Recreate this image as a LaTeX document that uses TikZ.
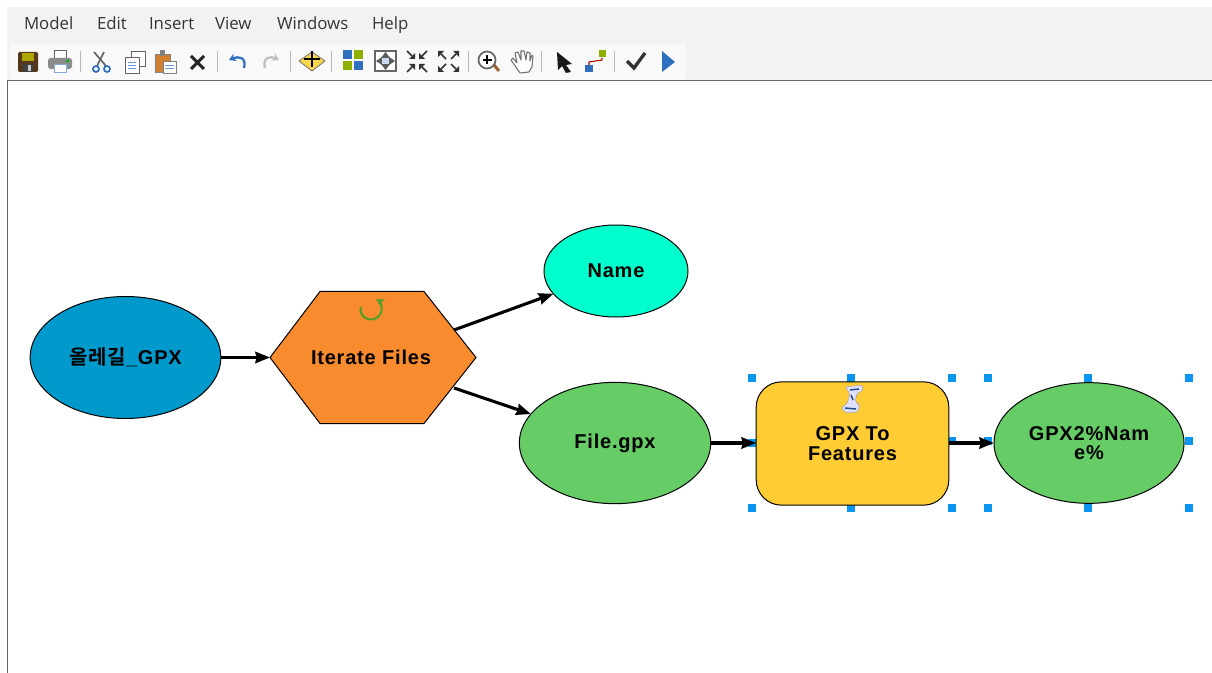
\documentclass[tikz,border=0pt]{standalone}
\usepackage{fontspec}
\setmainfont{Liberation Sans}
\newfontfamily\menufont{Open Sans}
\newfontfamily\diagfont{Liberation Sans Bold}[LetterSpace=4]
\newfontfamily\cjkfont{Noto Sans CJK KR Bold}[LetterSpace=4]
\usetikzlibrary{arrows.meta,shapes.geometric,calc}
\definecolor{ovalblue}{HTML}{0099CC}
\definecolor{ovalcyan}{HTML}{00FFCC}
\definecolor{ovalgreen}{HTML}{66CC66}
\definecolor{hexorange}{HTML}{F78B2D}
\definecolor{boxyellow}{HTML}{FFCC33}
\definecolor{handleblue}{HTML}{0A96F0}
\definecolor{barbg}{HTML}{F2F2F2}
\definecolor{stripbg}{HTML}{F9F9F9}
\definecolor{sepgray}{HTML}{B8B8B8}
\definecolor{iconblue}{HTML}{2F6FC0}
\definecolor{icongreen}{HTML}{8DB000}
\definecolor{loopgreen}{HTML}{4E9F2A}
\tikzset{
  every node/.style={inner sep=0pt,outer sep=0pt},
  diagramtext/.style={font=\diagfont\fontsize{15}{14.6}\selectfont,align=center,text=black},
  ovalnode/.style={ellipse,draw=black,line width=0.75pt,diagramtext},
  flowarrow/.style={line width=2.3pt,black,-{Stealth[length=11pt,width=8.5pt,inset=1pt]}},
  handlesq/.style={fill=handleblue,draw=none,minimum size=5.5pt,rectangle},
  menuitem/.style={font=\menufont\fontsize{12.6}{12.6}\selectfont,text=black!80,anchor=base west},
  sepline/.style={draw=sepgray,line width=0.7pt},
}
\begin{document}
\begin{tikzpicture}[x=0.75pt,y=-0.75pt]
\useasboundingbox (0,0) rectangle (1212,673);
\fill[white] (0,0) rectangle (1212,673);
% window chrome
\fill[barbg] (7,7) rectangle (1212,81);
\fill[stripbg,rounded corners=2pt] (10,44) rectangle (686,80);
\draw[draw=black!60,line width=0.75pt] (7,673) -- (7,81) -- (1212,81);
% menu
\node[menuitem] (mModel) at (24,30) {Model};
\node[menuitem] (mEdit) at (97,30) {Edit};
\node[menuitem] (mInsert) at (149,30) {Insert};
\node[menuitem] (mView) at (215,30) {View};
\node[menuitem] (mWindows) at (277,30) {Windows};
\node[menuitem] (mHelp) at (372,30) {Help};
% separators
\foreach \sx in {80,217,290,331,468,541,614}{\draw[sepline] (\sx,51) -- (\sx,72);}
% save
\fill[black!55!brown,rounded corners=1pt] (18,52) rectangle (38,72);
\fill[olive!70!yellow] (22,53) rectangle (34,61);
\fill[black!75] (23,64) rectangle (33,72);
\fill[white!80!black] (28,65) rectangle (31,71);
% print
\fill[white,draw=black!60,line width=0.6pt] (54,50) rectangle (66,60);
\fill[black!45,rounded corners=2pt] (48,58) rectangle (72,69);
\fill[white,draw=iconblue!60,line width=0.5pt] (54,64) rectangle (66,72);
\fill[green!70!black] (66,60) rectangle (69,62);
% scissors
\draw[black!60,line width=1.3pt] (94,52) -- (106,66);
\draw[black!60,line width=1.3pt] (104,52) -- (97,66);
\draw[iconblue,line width=1.3pt] (96,69) circle[radius=3];
\draw[iconblue,line width=1.3pt] (107,69) circle[radius=3];
% copy
\fill[white,draw=black!60,line width=0.7pt] (131,51) rectangle (145,66);
\fill[white,draw=black!60,line width=0.7pt] (125,57) rectangle (139,73);
\foreach \ly in {62,65,68}{\draw[iconblue!70,line width=0.7pt] (128,\ly) -- (136,\ly);}
% paste
\fill[brown!70!orange,draw=black!50,line width=0.6pt] (155,54) rectangle (170,72);
\fill[black!50] (160,50) rectangle (165,56);
\fill[white,draw=black!50,line width=0.6pt] (163,61) rectangle (176,73);
\foreach \ly in {65,68}{\draw[iconblue!70,line width=0.7pt] (165,\ly) -- (174,\ly);}
% delete
\draw[black!85,line width=2.2pt] (191,56) -- (204,69) (204,56) -- (191,69);
% undo / redo
\draw[iconblue,line width=1.7pt,-{Stealth[length=5pt,width=6pt]}] (244,68) .. controls (247,57) and (238,56) .. (229,60);
\draw[black!25,line width=1.7pt,-{Stealth[length=5pt,width=6pt]}] (265,68) .. controls (262,57) and (271,56) .. (279,60);
% add data
\fill[yellow!60!orange!70,draw=black!55,line width=0.6pt] (299,61) -- (312,52) -- (325,61) -- (312,71) -- cycle;
\draw[black,line width=2.2pt] (312,51) -- (312,67) (304,59) -- (320,59);
% auto layout
\fill[iconblue] (343,50) rectangle (352,59);
\fill[icongreen] (354,50) rectangle (363,59);
\fill[icongreen] (343,61) rectangle (352,70);
\fill[iconblue] (354,61) rectangle (363,70);
% full extent
\draw[black!60,fill=white,line width=0.8pt] (375,51) rectangle (396,71);
\fill[black!65] (381,58) -- (385.5,52) -- (390,58) -- cycle;
\fill[black!65] (381,64) -- (385.5,70) -- (390,64) -- cycle;
\fill[black!65] (382,57) -- (376,61) -- (382,65) -- cycle;
\fill[black!65] (389,57) -- (395,61) -- (389,65) -- cycle;
\fill[iconblue!25] (382,58) rectangle (389,64);
% fixed zoom in: arrows pointing inwards
\foreach \ax/\ay/\dx/\dy in {407/51/1/1,427/51/-1/1,407/72/1/-1,427/72/-1/-1}{
  \draw[black!80,line width=1.1pt] (\ax,\ay) -- (\ax+5*\dx,\ay+5*\dy);
  \fill[black!80] (\ax+8*\dx,\ay+8*\dy) -- (\ax+2*\dx,\ay+8*\dy) -- (\ax+8*\dx,\ay+2*\dy) -- cycle;
}
% fixed zoom out: arrows pointing outwards
\foreach \ax/\ay/\dx/\dy in {438/51/1/1,459/51/-1/1,438/72/1/-1,459/72/-1/-1}{
  \draw[black!80,line width=1.1pt] (\ax+3*\dx,\ay+3*\dy) -- (\ax+8*\dx,\ay+8*\dy);
  \fill[black!80] (\ax,\ay) -- (\ax+6*\dx,\ay) -- (\ax,\ay+6*\dy) -- cycle;
}
% magnifier
\draw[brown!80!black,line width=2.2pt] (494,65) -- (499,71);
\draw[black!60,fill=white,line width=1.3pt] (487,60) circle[radius=8.5];
\draw[black,line width=1.5pt] (487,55.5) -- (487,64.5) (482.5,60) -- (491.5,60);
% hand
\fill[white,draw=black!55,line width=0.8pt,line join=round] (511,60) -- (513,58) -- (517,63) -- (515,53) -- (518,52) -- (521,60) -- (521,51) -- (524,51) -- (526,60) -- (527,52) -- (530,53) -- (530,61) -- (532,55) -- (533,57) -- (532,67) -- (529,72) -- (520,73) -- cycle;
% pointer
\fill[black!90] (557,52) -- (572,64) -- (566,65) -- (571,72) -- (566,73) -- (562,66) -- (558,70) -- cycle;
% connect tool
\draw[red!70!black,line width=0.8pt] (589,66) -- (589,62) -- (602,60) -- (602,58);
\fill[iconblue] (585,65) rectangle (593,72);
\fill[icongreen] (599,50) rectangle (606,57);
% validate
\draw[black!80,line width=2.5pt] (627,61) -- (634,68) -- (645,53);
% run
\fill[iconblue] (662,51) -- (675,62) -- (662,72) -- cycle;

% selection handles (under the shapes)
\foreach \hx/\hy [count=\hi] in {752/378,851/378,952/378,752/443,952/441,752/508,851/508,952/508,988/378,1088/378,1189/378,988/441,1189/441,988/508,1088/508,1189/508}{
  \node[handlesq] (hd\hi) at (\hx,\hy) {};
}

% model shapes
\node[ovalnode,fill=ovalblue,minimum width=143pt,minimum height=91.5pt] (source) at (125.5,357.5) {{\cjkfont 올레길}\_GPX};
\draw[fill=hexorange,draw=black,line width=0.75pt] (270,357.5) -- (320,291.5) -- (424,291.5) -- (476,357.5) -- (424,423.5) -- (320,423.5) -- cycle;
\coordinate (hexL) at (270,357.5);
\coordinate (hexUR) at (454,330);
\coordinate (hexLR) at (454,388);
\node[diagramtext] (iterate) at (371,357.5) {Iterate Files};
\draw[loopgreen,line width=1.5pt,-{Stealth[length=6pt,width=6.5pt]}] (360.5,307) arc[start angle=190,end angle=-62,radius=10.7];
\node[ovalnode,fill=ovalcyan,minimum width=108pt,minimum height=69pt] (name) at (616,271) {Name};
\node[ovalnode,fill=ovalgreen,minimum width=143.5pt,minimum height=91pt] (file) at (615,443) {File.gpx};
\node[rectangle,rounded corners=19pt,draw=black,line width=0.75pt,fill=boxyellow,diagramtext,minimum width=144.5pt,minimum height=92.5pt] (gpx) at (852.5,443.5) {GPX To\\[0pt]Features};
\node[ovalnode,fill=ovalgreen,minimum width=142.5pt,minimum height=90.5pt] (output) at (1089,443) {GPX2\%Nam\\e\%};
% script icon
\fill[blue!12,draw=black!35,line width=0.4pt,rounded corners=1.5pt] (845,387) -- (862,385) -- (863,391) -- (857,393) -- (855,402) -- (860,405) -- (858,412) -- (846,413) -- (841,408) -- (847,404) -- (850,393) -- cycle;
\draw[iconblue!70!black,line width=1.1pt] (850,390) -- (859,389) (851,395) -- (853,400) (845,408) -- (856,409);

% connectors
\draw[flowarrow] (source.east) -- (hexL);
\draw[flowarrow] (hexUR) -- (name.200);
\draw[flowarrow] (hexLR) -- (file.161);
\draw[flowarrow] (file.east) -- (file.east -| gpx.west);
\draw[flowarrow] (gpx.east |- output.west) -- (output.west);
\end{tikzpicture}
\end{document}
